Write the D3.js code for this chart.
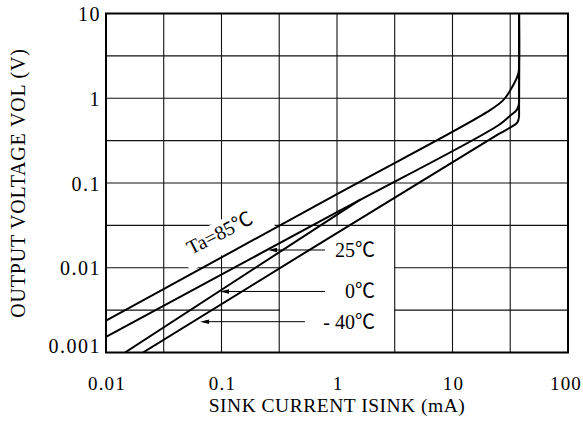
<!DOCTYPE html>
<html>
<head>
<meta charset="utf-8">
<script src="https://cdn.jsdelivr.net/npm/d3@7"></script>
<style>
  html, body { margin: 0; padding: 0; background: #fff; }
  svg { display: block; }
  text { font-family: "Liberation Serif", "Noto Sans CJK SC", serif; fill: #000; }
</style>
</head>
<body>
<svg id="chart" width="583" height="441"></svg>
<script>
// ---- data ----
const xGrid = [0.01, 0.0316, 0.1, 0.316, 1, 3.16, 10, 31.6, 100];
const yGrid = [0.001, 0.00316, 0.01, 0.0316, 0.1, 0.316, 1, 3.16, 10];
const xTicks = [0.01, 0.1, 1, 10, 100];
const xTickLabels = ["0.01", "0.1", "1", "10", "100"];
const yTicks = [0.001, 0.01, 0.1, 1, 10];
const yTickLabels = ["0.001", "0.01", "0.1", "1", "10"];

// sink current (mA) / output voltage (V) per temperature
const current85 = [0.01, 1, 20, 27.5, 33.6, 37.2, 37.7, 37.7];
const voltage85 = [0.00237, 0.074, 0.69, 0.95, 1.43, 1.97, 2.8, 10];
const current25 = [0.01, 1, 25, 31.5, 36, 37.5, 37.7, 37.7];
const voltage25 = [0.00153, 0.0452, 0.48, 0.62, 0.73, 0.84, 1.0, 10];
const current0 = [0.0146, 1.6];
const voltage0 = [0.001, 0.064];
const currentM40 = [0.0209, 25, 31.5, 36.5, 37.6, 37.7, 37.7];
const voltageM40 = [0.001, 0.377, 0.45, 0.52, 0.6, 0.75, 10];

// annotation labels
const tempLabels = ["25℃", "0℃", "- 40℃"];
const arrowTip = [0.253, 0.097, 0.0652];
const arrowTail = [0.787, 0.787, 0.528];
const arrowV = [0.0162, 0.00525, 0.00231];
const labelI = 2.13;
const taLabel = "Ta=85℃";
const taI = 0.0545, taV = 0.0141;

const xTitle = "SINK CURRENT ISINK (mA)";
const yTitle = "OUTPUT VOLTAGE VOL (V)";

// ---- layout ----
const mLeft = 106, mRight = 568, mTop = 13.5, mBottom = 352.5;
const svg = d3.select("#chart");
const x = d3.scaleLog().domain([0.01, 100]).range([mLeft, mRight]);
const y = d3.scaleLog().domain([0.001, 10]).range([mBottom, mTop]);

svg.append("defs").append("clipPath").attr("id", "plotclip")
  .append("rect").attr("x", mLeft).attr("y", mTop)
  .attr("width", mRight - mLeft).attr("height", mBottom - mTop);

// grid
const g = svg.append("g");
g.selectAll(".vg").data(xGrid).join("line")
  .attr("x1", d => x(d)).attr("x2", d => x(d))
  .attr("y1", mTop).attr("y2", mBottom)
  .attr("stroke", "#111").attr("stroke-width", 1.1);
g.selectAll(".hg").data(yGrid).join("line")
  .attr("y1", d => y(d)).attr("y2", d => y(d))
  .attr("x1", mLeft).attr("x2", mRight)
  .attr("stroke", "#111").attr("stroke-width", 1.1);

// white label box (blank cell holding the temperature labels)
svg.append("rect")
  .attr("x", x(0.316) + 0.8).attr("y", y(0.0316) + 0.8)
  .attr("width", x(3.16) - x(0.316) - 1.6)
  .attr("height", y(0.001) - y(0.0316) - 0.8)
  .attr("fill", "#fff");

// Ta label background
const ta = svg.append("g")
  .attr("transform", `translate(${x(taI)},${y(taV)}) rotate(-27)`);
ta.append("rect").attr("x", -8).attr("y", -18).attr("width", 96).attr("height", 32).attr("fill", "#fff");

// curves
const line = d3.line().x(d => x(d[0])).y(d => y(d[1])).curve(d3.curveCatmullRom.alpha(0.5));
const series = [
  d3.zip(current85, voltage85),
  d3.zip(current25, voltage25),
  d3.zip(current0, voltage0),
  d3.zip(currentM40, voltageM40)
];
svg.append("g").attr("clip-path", "url(#plotclip)")
  .selectAll("path").data(series).join("path")
  .attr("d", line).attr("fill", "none")
  .attr("stroke", "#000").attr("stroke-width", 2);

ta.append("text").attr("x", 0).attr("y", 0)
  .attr("font-size", 20).text(taLabel);

// arrows + labels
const ann = svg.append("g");
tempLabels.forEach((lab, i) => {
  const yy = y(arrowV[i]);
  const xt = x(arrowTip[i]), xe = x(arrowTail[i]);
  ann.append("line").attr("x1", xe).attr("x2", xt + 6).attr("y1", yy).attr("y2", yy)
    .attr("stroke", "#000").attr("stroke-width", 1);
  ann.append("path")
    .attr("d", `M${xt},${yy} L${xt + 9},${yy - 2.2} L${xt + 9},${yy + 2.2} Z`)
    .attr("fill", "#000");
  ann.append("text").attr("x", x(labelI)).attr("y", yy + 7)
    .attr("text-anchor", "end").attr("font-size", 20)
    .text(lab);
});

// frame
svg.append("rect").attr("x", mLeft).attr("y", mTop)
  .attr("width", mRight - mLeft).attr("height", mBottom - mTop)
  .attr("fill", "none").attr("stroke", "#000").attr("stroke-width", 2);

// tick labels
svg.selectAll(".xt").data(xTicks).join("text")
  .attr("x", (d, i) => x(d) + (i === xTicks.length - 1 ? -2 : 1)).attr("y", 390)
  .attr("text-anchor", "middle").attr("font-size", 19).attr("letter-spacing", 1.2)
  .text((d, i) => xTickLabels[i]);
svg.selectAll(".yt").data(yTicks).join("text")
  .attr("x", 101).attr("y", (d, i) => i === 0 ? y(d) : y(d) + 7.5)
  .attr("text-anchor", "end").attr("font-size", 20).attr("letter-spacing", 1.5)
  .text((d, i) => yTickLabels[i]);

// axis titles
svg.append("text").attr("x", (mLeft + mRight) / 2).attr("y", 412)
  .attr("text-anchor", "middle").attr("font-size", 19.5).attr("letter-spacing", 0.5)
  .text(xTitle);
svg.append("text")
  .attr("transform", `translate(25,${(mTop + mBottom) / 2}) rotate(-90)`)
  .attr("text-anchor", "middle").attr("font-size", 20).attr("letter-spacing", 0.8)
  .text(yTitle);
</script>
</body>
</html>
